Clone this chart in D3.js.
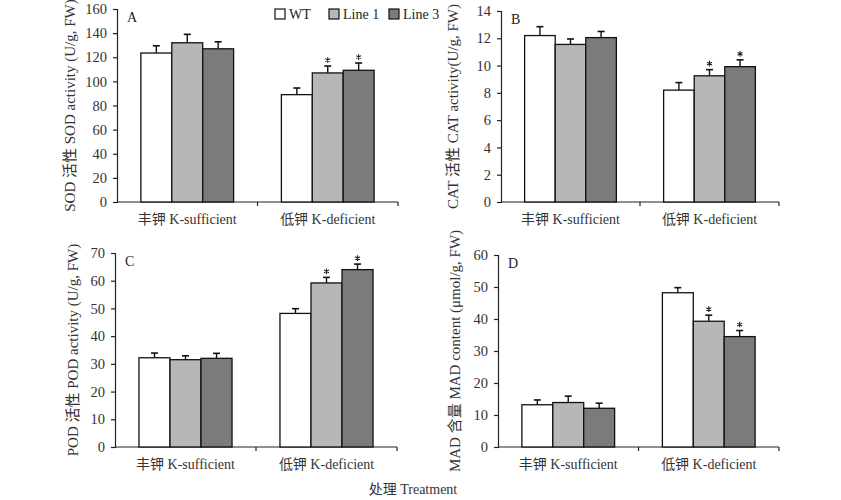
<!DOCTYPE html>
<html><head><meta charset="utf-8">
<script src="https://cdn.jsdelivr.net/npm/d3@7"></script>
<style>
body{margin:0;background:#fff;}
text{font-family:"Liberation Serif","Times New Roman","Noto Sans CJK SC",serif;}
</style></head>
<body><svg id="c" width="841" height="500"></svg>
<script>
const categories = ["丰钾 K-sufficient", "低钾 K-deficient"];
const seriesNames = ["WT", "Line 1", "Line 3"];
const seriesColors = ["#ffffff", "#b7b7b7", "#7b7b7b"];

// SOD (panel A)
const sodWT = [123.5, 89], sodL1 = [132, 107], sodL3 = [127, 109.2];
const sodErrWT = [6, 5.5], sodErrL1 = [7, 5.7], sodErrL3 = [5.8, 6];
const sodSig = [[0,0,0],[0,1,1]];
const sodTicks = [0,20,40,60,80,100,120,140,160];
// CAT (panel B)
const catWT = [12.2, 8.2], catL1 = [11.55, 9.25], catL3 = [12.05, 9.92];
const catErrWT = [0.65, 0.55], catErrL1 = [0.4, 0.45], catErrL3 = [0.45, 0.5];
const catSig = [[0,0,0],[0,1,1]];
const catTicks = [0,2,4,6,8,10,12,14];
// POD (panel C)
const podWT = [32.2, 48.2], podL1 = [31.5, 59.2], podL3 = [32, 64];
const podErrWT = [1.7, 1.7], podErrL1 = [1.4, 2.0], podErrL3 = [1.8, 2.0];
const podSig = [[0,0,0],[0,1,1]];
const podTicks = [0,10,20,30,40,50,60,70];
// MAD (panel D)
const madWT = [13.2, 48.2], madL1 = [13.9, 39.3], madL3 = [12.1, 34.5];
const madErrWT = [1.5, 1.6], madErrL1 = [2.0, 1.9], madErrL3 = [1.6, 1.9];
const madSig = [[0,0,0],[0,1,1]];
const madTicks = [0,10,20,30,40,50,60];

const panels = [
  {label:"A", title:"SOD 活性 SOD activity (U/g, FW)", vals:[sodWT,sodL1,sodL3], errs:[sodErrWT,sodErrL1,sodErrL3], sig:sodSig, ticks:sodTicks,
   x0:117, x1:398, y0:9, y1:202, titleX:75},
  {label:"B", title:"CAT 活性 CAT activity(U/g, FW)", vals:[catWT,catL1,catL3], errs:[catErrWT,catErrL1,catErrL3], sig:catSig, ticks:catTicks,
   x0:501, x1:779, y0:11, y1:202, titleX:458},
  {label:"C", title:"POD 活性 POD activity (U/g, FW)", vals:[podWT,podL1,podL3], errs:[podErrWT,podErrL1,podErrL3], sig:podSig, ticks:podTicks,
   x0:115, x1:397, y0:253, y1:447, titleX:78},
  {label:"D", title:"MAD 含量 MAD content (μmol/g, FW)", vals:[madWT,madL1,madL3], errs:[madErrWT,madErrL1,madErrL3], sig:madSig, ticks:madTicks,
   x0:498, x1:779, y0:255, y1:447, titleX:460}
];

const svg = d3.select("#c");
const axisColor = "#222";
const star = d3.symbol(d3.symbolAsterisk, 22);

panels.forEach(p => {
  const g = svg.append("g");
  const maxV = p.ticks[p.ticks.length-1];
  const y = d3.scaleLinear().domain([0, maxV]).range([p.y1, p.y0]);
  const x0 = d3.scaleBand().domain(categories).range([p.x0, p.x1]).padding(0);
  const bw = x0.bandwidth();
  const x1 = d3.scaleBand().domain(seriesNames).range([bw*0.17, bw*0.83]).padding(0);

  // y axis
  const ya = d3.axisLeft(y).tickValues(p.ticks).tickSize(4).tickPadding(6).tickFormat(d3.format("d"));
  const yg = g.append("g").attr("transform", `translate(${p.x0},0)`).call(ya);
  yg.select(".domain").attr("stroke", axisColor).attr("stroke-width", 1.2);
  yg.selectAll(".tick line").attr("stroke", axisColor).attr("stroke-width", 1.2);
  yg.selectAll(".tick text").attr("fill", "#333").style("font-size", "14.5px");

  // x axis line with ticks at band boundaries
  g.append("line").attr("x1", p.x0).attr("x2", p.x1).attr("y1", p.y1).attr("y2", p.y1)
    .attr("stroke", axisColor).attr("stroke-width", 1.2);
  const bounds = [p.x0 + bw, p.x1];
  bounds.forEach(bx => {
    g.append("line").attr("x1", bx).attr("x2", bx).attr("y1", p.y1).attr("y2", p.y1+4)
      .attr("stroke", axisColor).attr("stroke-width", 1.2);
  });
  categories.forEach(c => {
    g.append("text").attr("x", x0(c) + bw/2).attr("y", p.y1 + 22)
      .attr("text-anchor", "middle").attr("fill", "#333").style("font-size", "14px").text(c);
  });

  // bars
  categories.forEach((c, ci) => {
    seriesNames.forEach((s, si) => {
      const v = p.vals[si][ci], e = p.errs[si][ci];
      const bx = x0(c) + x1(s);
      const w = x1.bandwidth();
      const cx = bx + w/2;
      g.append("line").attr("x1", cx).attr("x2", cx).attr("y1", y(v)).attr("y2", y(v+e))
        .attr("stroke", "#111").attr("stroke-width", 1.4);
      g.append("line").attr("x1", cx-3.5).attr("x2", cx+3.5).attr("y1", y(v+e)).attr("y2", y(v+e))
        .attr("stroke", "#111").attr("stroke-width", 1.6);
      g.append("rect").attr("x", bx).attr("y", y(v)).attr("width", w).attr("height", y(0)-y(v))
        .attr("fill", seriesColors[si]).attr("stroke", "#111").attr("stroke-width", 1.3);
      if (p.sig[ci][si]) {
        g.append("path").attr("d", star)
          .attr("transform", `translate(${cx},${y(v+e) - 6})`)
          .attr("fill", "none").attr("stroke", "#222").attr("stroke-width", 1.1);
      }
    });
  });

  g.append("text").attr("x", p.x0 + 10).attr("y", p.y0 + 13).attr("fill", "#222")
    .style("font-size", "14px").text(p.label);

  g.append("text").attr("transform", `translate(${p.titleX},${(p.y0+p.y1)/2}) rotate(-90)`)
    .attr("text-anchor", "middle").attr("fill", "#333").style("font-size", "15px").text(p.title);
});

// legend
const legX = [275, 329, 389];
seriesNames.forEach((s, i) => {
  svg.append("rect").attr("x", legX[i]).attr("y", 9).attr("width", 10).attr("height", 10)
    .attr("fill", seriesColors[i]).attr("stroke", "#111").attr("stroke-width", 1.2);
  svg.append("text").attr("x", legX[i] + 14).attr("y", 19).attr("fill", "#222")
    .style("font-size", "14px").text(s);
});

svg.append("text").attr("x", 413).attr("y", 494).attr("text-anchor", "middle")
  .attr("fill", "#333").style("font-size", "14px").text("处理 Treatment");
</script></body></html>
